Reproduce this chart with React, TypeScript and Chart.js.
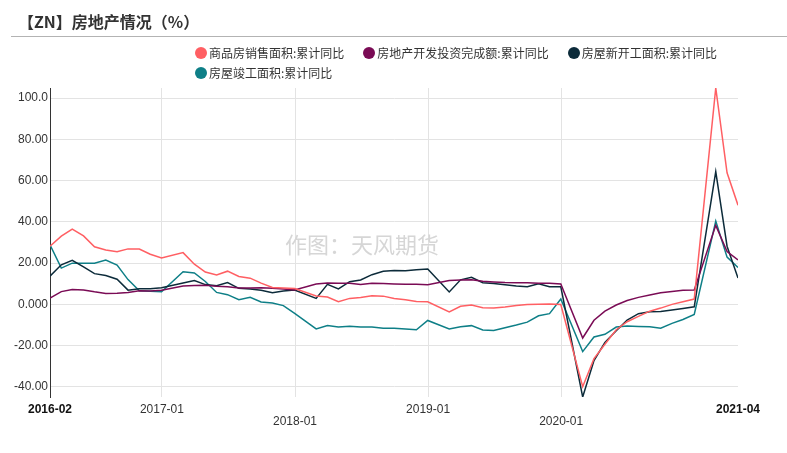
import React, { useEffect, useRef } from 'react';
import { Chart, registerables } from 'chart.js';

Chart.register(...registerables);

const months = [
  '2016-02', '2016-03', '2016-04', '2016-05', '2016-06', '2016-07', '2016-08', '2016-09', '2016-10', '2016-11', '2016-12',
  '2017-02', '2017-03', '2017-04', '2017-05', '2017-06', '2017-07', '2017-08', '2017-09', '2017-10', '2017-11', '2017-12',
  '2018-02', '2018-03', '2018-04', '2018-05', '2018-06', '2018-07', '2018-08', '2018-09', '2018-10', '2018-11', '2018-12',
  '2019-02', '2019-03', '2019-04', '2019-05', '2019-06', '2019-07', '2019-08', '2019-09', '2019-10', '2019-11', '2019-12',
  '2020-02', '2020-03', '2020-04', '2020-05', '2020-06', '2020-07', '2020-08', '2020-09', '2020-10', '2020-11', '2020-12',
  '2021-02', '2021-03', '2021-04',
];

const salesArea = [
  28.2, 33.1, 36.5, 33.2, 27.9, 26.4, 25.5, 26.9, 26.8, 24.3, 22.5,
  25.1, 19.5, 15.7, 14.3, 16.1, 13.5, 12.7, 10.3, 8.2, 7.9, 7.7,
  4.1, 3.6, 1.3, 2.9, 3.3, 4.2, 4.0, 2.9, 2.2, 1.4, 1.3,
  -3.6, -0.9, -0.3, -1.6, -1.8, -1.3, -0.6, -0.1, 0.1, 0.2, -0.1,
  -39.9, -26.3, -19.3, -12.3, -8.4, -5.8, -3.3, -1.8, 0.0, 1.3, 2.6,
  104.9, 63.8, 48.1,
];

const investment = [
  3.0, 6.2, 7.2, 7.0, 6.1, 5.3, 5.4, 5.8, 6.6, 6.5, 6.9,
  8.9, 9.1, 9.3, 8.8, 8.5, 7.9, 7.9, 8.1, 7.8, 7.5, 7.0,
  9.9, 10.4, 10.3, 10.2, 9.7, 10.2, 10.1, 9.9, 9.7, 9.7, 9.5,
  11.6, 11.8, 11.9, 11.2, 10.9, 10.6, 10.5, 10.5, 10.3, 10.2, 9.9,
  -16.3, -7.7, -3.3, -0.3, 1.9, 3.4, 4.6, 5.6, 6.3, 6.8, 7.0,
  38.3, 25.6, 21.6,
];

const newStarts = [
  13.7, 19.2, 21.4, 18.2, 14.9, 14.0, 12.2, 6.9, 7.6, 7.6, 8.1,
  10.4, 11.6, 9.6, 9.0, 10.6, 7.8, 7.5, 6.8, 5.6, 6.5, 7.0,
  2.9, 9.7, 7.5, 11.0, 11.8, 14.4, 16.1, 16.4, 16.3, 16.8, 17.2,
  6.0, 11.9, 13.1, 10.5, 10.1, 9.5, 8.9, 8.6, 10.0, 8.6, 8.5,
  -44.9, -27.2, -18.4, -12.8, -7.6, -4.5, -3.6, -3.4, -2.7, -2.0, -1.2,
  64.3, 28.2, 12.8,
];

const completions = [
  28.9, 17.6, 20.0, 20.0, 19.9, 21.5, 19.1, 12.0, 6.6, 6.4, 6.1,
  15.8, 15.2, 11.1, 5.8, 4.7, 2.3, 3.4, 1.2, 0.7, -0.6, -4.4,
  -11.9, -10.3, -11.0, -10.6, -11.0, -11.0, -11.6, -11.6, -11.9, -12.3, -7.8,
  -11.9, -10.8, -10.3, -12.4, -12.7, -11.3, -10.0, -8.6, -5.5, -4.5, 2.6,
  -22.9, -15.8, -14.5, -11.0, -10.5, -10.7, -10.8, -11.6, -9.2, -7.3, -4.9,
  40.4, 22.9, 17.9,
];

const seriesNames = [
  '商品房销售面积:累计同比',
  '房地产开发投资完成额:累计同比',
  '房屋新开工面积:累计同比',
  '房屋竣工面积:累计同比',
];
const seriesColors = ['#ff5f63', '#7a0b55', '#0c2b3a', '#0e7f87'];

const xTickLabels = ['2016-02', '2017-01', '2018-01', '2019-01', '2020-01', '2021-04'];
const xTickLower = [false, false, true, false, true, false];
const yTicks = [-40, -20, 0, 20, 40, 60, 80, 100];

const titleText = '【ZN】房地产情况（%）';
const watermarkText = '作图：天风期货';

function monthEnd(label: string): number {
  const [y, m] = label.split('-').map(Number);
  return Date.UTC(y, m, 0);
}
function monthStart(label: string): number {
  const [y, m] = label.split('-').map(Number);
  return Date.UTC(y, m - 1, 1);
}

const watermarkPlugin = {
  id: 'watermark',
  beforeDatasetsDraw(chart: any) {
    const { ctx, chartArea } = chart;
    ctx.save();
    ctx.font = '22px "Noto Sans CJK SC", sans-serif';
    ctx.fillStyle = '#d6d6d6';
    ctx.textAlign = 'center';
    ctx.textBaseline = 'middle';
    const x = chart.scales.x.getPixelForValue(Date.UTC(2018, 6, 15));
    ctx.fillText(watermarkText, x - 4, chartArea.top + 157);
    ctx.restore();
  },
};

export default function App() {
  const canvasRef = useRef<HTMLCanvasElement | null>(null);

  useEffect(() => {
    const canvas = canvasRef.current;
    if (!canvas) return;
    const allSeries = [salesArea, investment, newStarts, completions];
    const all = allSeries.flat();
    const yMin = Math.min(...all);
    const yMax = Math.max(...all);
    const xs = months.map(monthEnd);
    const xTickValues = xTickLabels.map((l, i) =>
      i === 0 || i === xTickLabels.length - 1 ? monthEnd(l) : monthStart(l)
    );
    const lastIdx = xTickLabels.length - 1;

    const chart = new Chart(canvas, {
      type: 'line',
      data: {
        datasets: allSeries.map((s, i) => ({
          label: seriesNames[i],
          data: s.map((v, j) => ({ x: xs[j], y: v })),
          borderColor: seriesColors[i],
          backgroundColor: seriesColors[i],
          borderWidth: 1.5,
          pointRadius: 0,
          pointHoverRadius: 0,
          tension: 0,
          fill: false,
        })),
      },
      options: {
        responsive: false,
        animation: false,
        layout: { padding: { left: 8, right: 49, top: 88, bottom: 26 } },
        plugins: {
          legend: { display: false },
          tooltip: { enabled: false },
        },
        scales: {
          x: {
            type: 'linear',
            min: xs[0],
            max: xs[xs.length - 1],
            afterBuildTicks: (scale: any) => {
              scale.ticks = xTickValues.map((v) => ({ value: v }));
            },
            afterFit: (scale: any) => {
              scale.height = 30;
            },
            border: { display: false },
            grid: {
              drawTicks: false,
              color: (ctx: any) =>
                ctx.index === 0 || ctx.index === lastIdx ? 'rgba(0,0,0,0)' : '#e3e3e3',
              lineWidth: 1,
            },
            ticks: {
              autoSkip: false,
              maxRotation: 0,
              minRotation: 0,
              padding: 7,
              color: (ctx: any) => (ctx.index === 0 || ctx.index === lastIdx ? '#111' : '#333'),
              font: (ctx: any) => ({
                family: '"Liberation Sans", Arial, sans-serif',
                size: 12,
                lineHeight: 1,
                weight: ctx.index === 0 || ctx.index === lastIdx ? 'bold' : 'normal',
              }),
              callback: (_v: any, i: number) =>
                xTickLower[i] ? ['', xTickLabels[i]] : xTickLabels[i],
            },
          },
          y: {
            type: 'linear',
            min: yMin,
            max: yMax,
            afterBuildTicks: (scale: any) => {
              scale.ticks = yTicks.map((v) => ({ value: v }));
            },
            afterFit: (scale: any) => {
              scale.width = 42;
            },
            border: { display: true, color: '#333', width: 1 },
            grid: { drawTicks: false, color: '#e3e3e3', lineWidth: 1 },
            ticks: {
              padding: 2,
              color: '#333',
              font: { family: '"Liberation Sans", Arial, sans-serif', size: 12 },
              callback: (v: any) => Number(v).toPrecision(4),
            },
          },
        },
      },
      plugins: [watermarkPlugin],
    });
    return () => chart.destroy();
  }, []);

  const legendRows = [[0, 1, 2], [3]];

  return (
    <div
      style={{
        position: 'absolute',
        left: 0,
        top: 0,
        width: 787,
        height: 453,
        background: '#fff',
        overflow: 'hidden',
        fontFamily: '"Noto Sans CJK SC", "Noto Sans", sans-serif',
      }}
    >
      <canvas
        ref={canvasRef}
        width={787}
        height={453}
        style={{ position: 'absolute', left: 0, top: 0, width: 787, height: 453 }}
      />
      <div
        style={{
          position: 'absolute',
          left: 18,
          top: 10,
          fontSize: 16,
          lineHeight: '22px',
          fontWeight: 'bold',
          color: '#333',
          whiteSpace: 'nowrap',
        }}
      >
        {titleText}
      </div>
      <div
        style={{
          position: 'absolute',
          left: 11,
          right: 0,
          top: 36,
          height: 1,
          background: '#b3b3b3',
        }}
      />
      {legendRows.map((row, r) => (
        <div
          key={r}
          style={{
            position: 'absolute',
            left: 195,
            top: 45 + r * 20,
            height: 16,
            display: 'flex',
            alignItems: 'center',
            whiteSpace: 'nowrap',
          }}
        >
          {row.map((i) => (
            <div
              key={i}
              style={{ display: 'flex', alignItems: 'center', marginRight: 19 }}
            >
              <span
                style={{
                  display: 'inline-block',
                  width: 12,
                  height: 12,
                  borderRadius: 6,
                  background: seriesColors[i],
                  marginRight: 2,
                }}
              />
              <span style={{ fontSize: 12, lineHeight: '16px', color: '#333' }}>
                {seriesNames[i]}
              </span>
            </div>
          ))}
        </div>
      ))}
    </div>
  );
}
